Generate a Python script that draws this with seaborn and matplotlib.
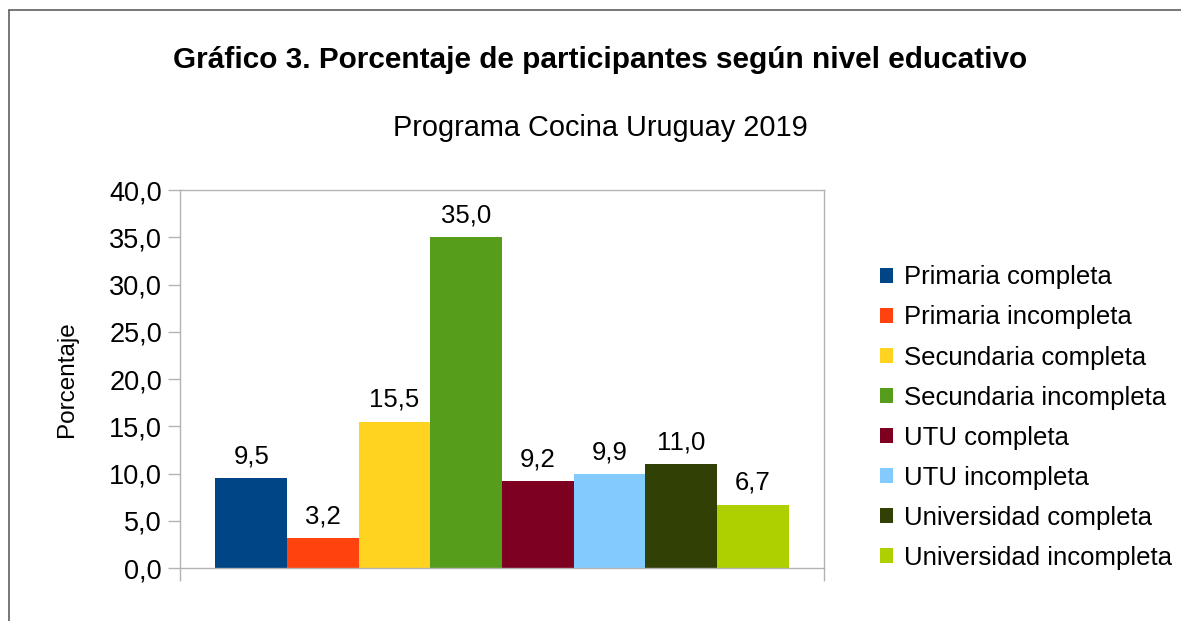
import matplotlib
matplotlib.use("Agg")
import matplotlib.pyplot as plt
from matplotlib.lines import Line2D
import pandas as pd
import seaborn as sns

## data
niveles = ["Primaria completa", "Primaria incompleta", "Secundaria completa",
           "Secundaria incompleta", "UTU completa", "UTU incompleta",
           "Universidad completa", "Universidad incompleta"]
porcentajes = [9.5, 3.2, 15.5, 35.0, 9.2, 9.9, 11.0, 6.7]
colores = ["#004586", "#ff420e", "#ffd320", "#579d1c",
           "#7e0021", "#83caff", "#314004", "#aecf00"]
yticks = [0, 5, 10, 15, 20, 25, 30, 35, 40]

df = pd.DataFrame({"grupo": [""] * len(niveles),
                   "nivel": niveles,
                   "pct": porcentajes})

## global settings
sns.set_style("white")
plt.rcParams["font.family"] = ["Liberation Sans", "DejaVu Sans"]
plt.rcParams.update({"text.color": "black", "axes.labelcolor": "black",
                     "xtick.color": "black", "ytick.color": "black"})
fontsize = 18.5

fig = plt.figure(figsize=(11.81, 6.21), dpi=100)
ax = fig.add_axes([0.1524, 0.0853, 0.5453, 0.6087])

sns.barplot(data=df, x="grupo", y="pct", hue="nivel", hue_order=niveles,
            palette=dict(zip(niveles, colores)), width=0.89, gap=0,
            saturation=1, linewidth=0, edgecolor="none", ax=ax, legend=True)

## value labels
for cont, v in zip(ax.containers, porcentajes):
    ax.bar_label(cont, labels=[f"{v:.1f}".replace(".", ",")],
                 padding=7, fontsize=fontsize)

## axes
ax.set_ylim(0, 40)
ax.set_xlim(-0.5, 0.5)
ax.set_yticks(yticks)
ax.set_yticklabels([f"{t:.1f}".replace(".", ",") for t in yticks], fontsize=19.5)
ax.set_xticks([-0.5, 0.5])
ax.set_xticklabels(["", ""])
ax.tick_params(axis="both", direction="out", length=9, width=1,
               left=True, bottom=True, pad=4)
ax.tick_params(axis="both", color="#b3b3b3")
ax.set_xlabel("")
ax.set_ylabel("Porcentaje", fontsize=17.5, labelpad=22)
for s in ax.spines.values():
    s.set_color("#b3b3b3")
    s.set_linewidth(1)

## legend
handles, labels = ax.get_legend_handles_labels()
ax.legend(handles, labels, loc="center left", bbox_to_anchor=(0.7364, 0.3275),
          bbox_transform=fig.transFigure, frameon=False, fontsize=fontsize,
          handlelength=0.5, handleheight=0.5, handletextpad=0.42,
          labelspacing=0.625, borderaxespad=0)

## titles
fig.text(0.508, 0.903, "Gráfico 3. Porcentaje de participantes según nivel educativo",
         ha="center", va="center", fontsize=21.4, fontweight="bold")
fig.text(0.508, 0.794, "Programa Cocina Uruguay 2019",
         ha="center", va="center", fontsize=20.8)

## outer border (top and left only visible)
top = 1 - 10 / 621
left = 9 / 1181
fig.add_artist(Line2D([left, left], [0, top], color="#606060", lw=1.2,
                      transform=fig.transFigure))
fig.add_artist(Line2D([left, 1], [top, top], color="#606060", lw=1.2,
                      transform=fig.transFigure))

fig.savefig("out.png", dpi=100)
